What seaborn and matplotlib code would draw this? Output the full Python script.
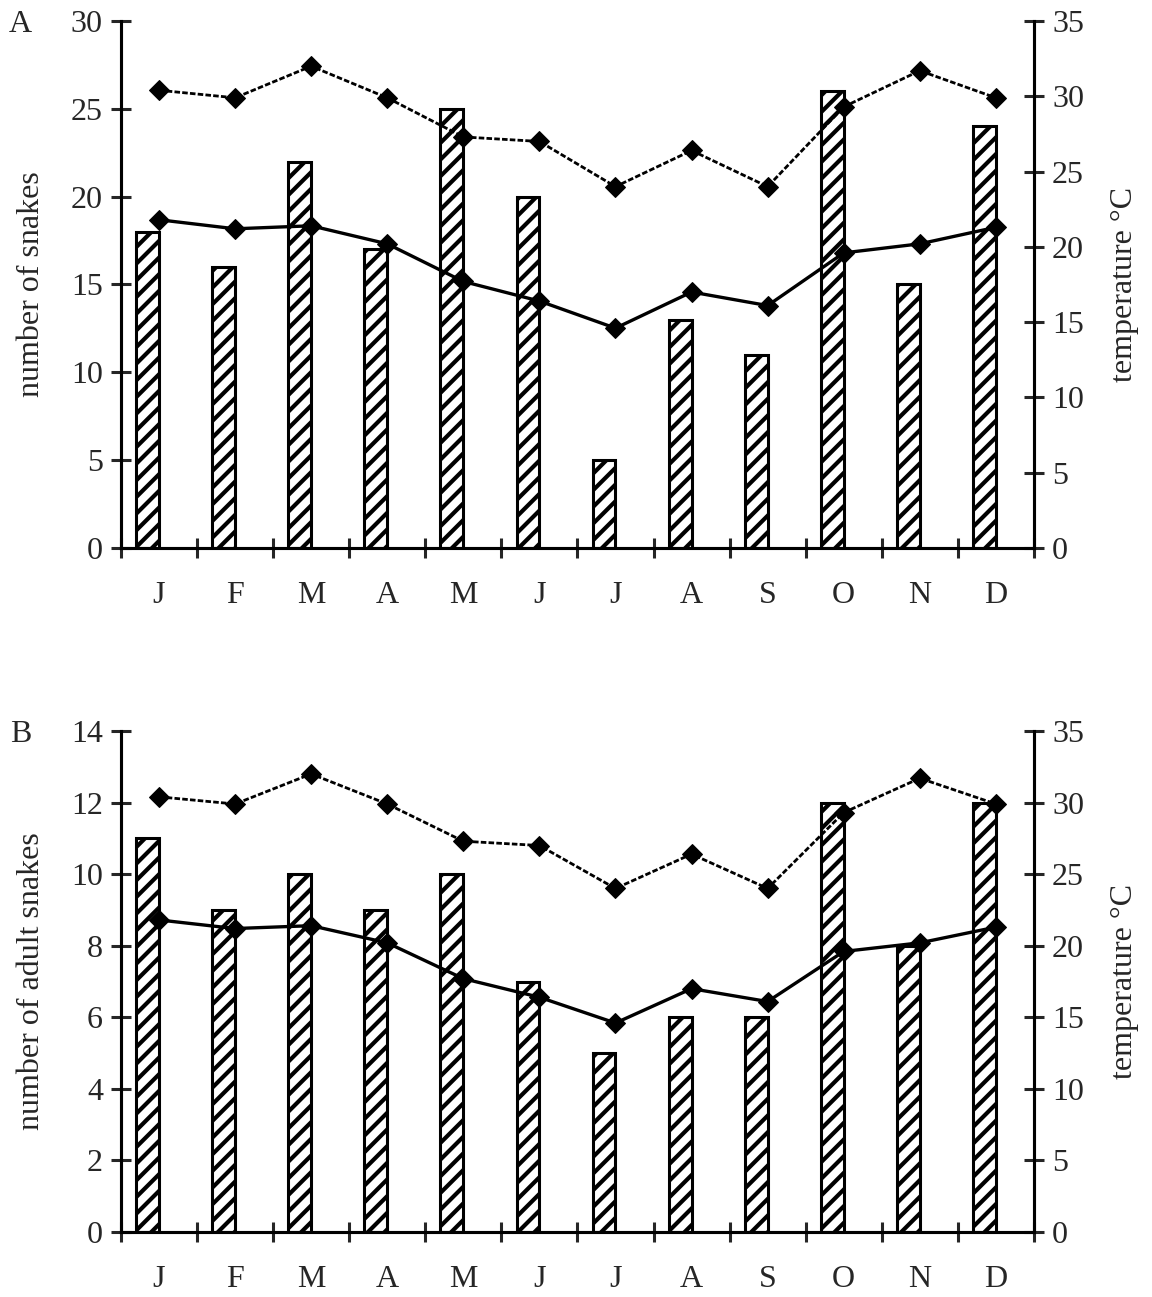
import numpy as np
import pandas as pd
import matplotlib
matplotlib.use("Agg")
import matplotlib.pyplot as plt
import seaborn as sns

# === Data ===
months = ['J', 'F', 'M', 'A', 'M', 'J', 'J', 'A', 'S', 'O', 'N', 'D']
snakes_all = [18, 16, 22, 17, 25, 20, 5, 13, 11, 26, 15, 24]
snakes_adult = [11, 9, 10, 9, 10, 7, 5, 6, 6, 12, 8, 12]
temp_max = [30.4, 29.9, 32.0, 29.9, 27.3, 27.0, 24.0, 26.4, 24.0, 29.3, 31.7, 29.9]
temp_mean = [21.8, 21.2, 21.4, 20.2, 17.7, 16.4, 14.6, 17.0, 16.1, 19.6, 20.2, 21.3]

sns.set_style("white")
plt.rcParams['font.family'] = ['Liberation Serif', 'DejaVu Serif']
plt.rcParams['hatch.linewidth'] = 3.0
plt.rcParams['hatch.color'] = 'black'

FS = 23
LW = 2.2

fig = plt.figure(figsize=(11.52, 12.97), dpi=100)


def panel(rect, counts, ymax, ystep, ylabel, letter):
    ax = fig.add_axes(rect)
    idx = np.arange(len(months))
    df = pd.DataFrame({'pos': idx - 0.15, 'n': counts})
    sns.barplot(data=df, x='pos', y='n', native_scale=True, width=0.3,
                color='white', saturation=1, edgecolor='black', linewidth=LW,
                hatch='//', ax=ax)

    ax2 = ax.twinx()
    tdf = pd.DataFrame({'m': idx, 'tmax': temp_max, 'tmean': temp_mean})
    sns.lineplot(data=tdf, x='m', y='tmax', ax=ax2, color='black', lw=2.0,
                 ls=(0, (2.0, 0.8)), marker='D', markersize=10,
                 markeredgecolor='black')
    sns.lineplot(data=tdf, x='m', y='tmean', ax=ax2, color='black', lw=2.4,
                 marker='D', markersize=10, markeredgecolor='black')

    for a in (ax, ax2):
        a.set_xlim(-0.5, len(months) - 0.5)
        for s in a.spines.values():
            s.set_linewidth(LW)
            s.set_color('black')
        a.spines['top'].set_visible(False)

    ax.set_ylim(0, ymax)
    ax.set_yticks(np.arange(0, ymax + 0.1, ystep))
    ax2.set_ylim(0, 35)
    ax2.set_yticks(np.arange(0, 36, 5))

    ax.set_xticks(idx)
    ax.set_xticklabels(months)
    ax.set_xticks(np.arange(-0.5, len(months) - 0.4, 1), minor=True)
    ax.tick_params(axis='x', which='major', length=0, pad=24, labelsize=FS)
    ax.tick_params(axis='x', which='minor', direction='inout', length=14,
                   width=LW, bottom=True)
    ax.tick_params(axis='y', direction='inout', length=14, width=LW,
                   pad=6, labelsize=FS, left=True)
    ax2.tick_params(axis='y', direction='inout', length=14, width=LW,
                    pad=6, labelsize=FS, right=True)

    ax.set_xlabel('')
    ax.set_ylabel(ylabel, fontsize=FS, labelpad=18)
    ax2.set_xlabel('')
    ax2.set_ylabel('temperature °C', fontsize=FS, labelpad=19)
    fig.text(0.018, rect[1] + rect[3] - 0.003, letter, fontsize=FS,
             ha='center', va='center')


panel([0.105, 0.5775, 0.7925, 0.4063], snakes_all, 30, 5, 'number of snakes', 'A')
panel([0.105, 0.0501, 0.7925, 0.3863], snakes_adult, 14, 2, 'number of adult snakes', 'B')

fig.savefig('out.png', dpi=100)
